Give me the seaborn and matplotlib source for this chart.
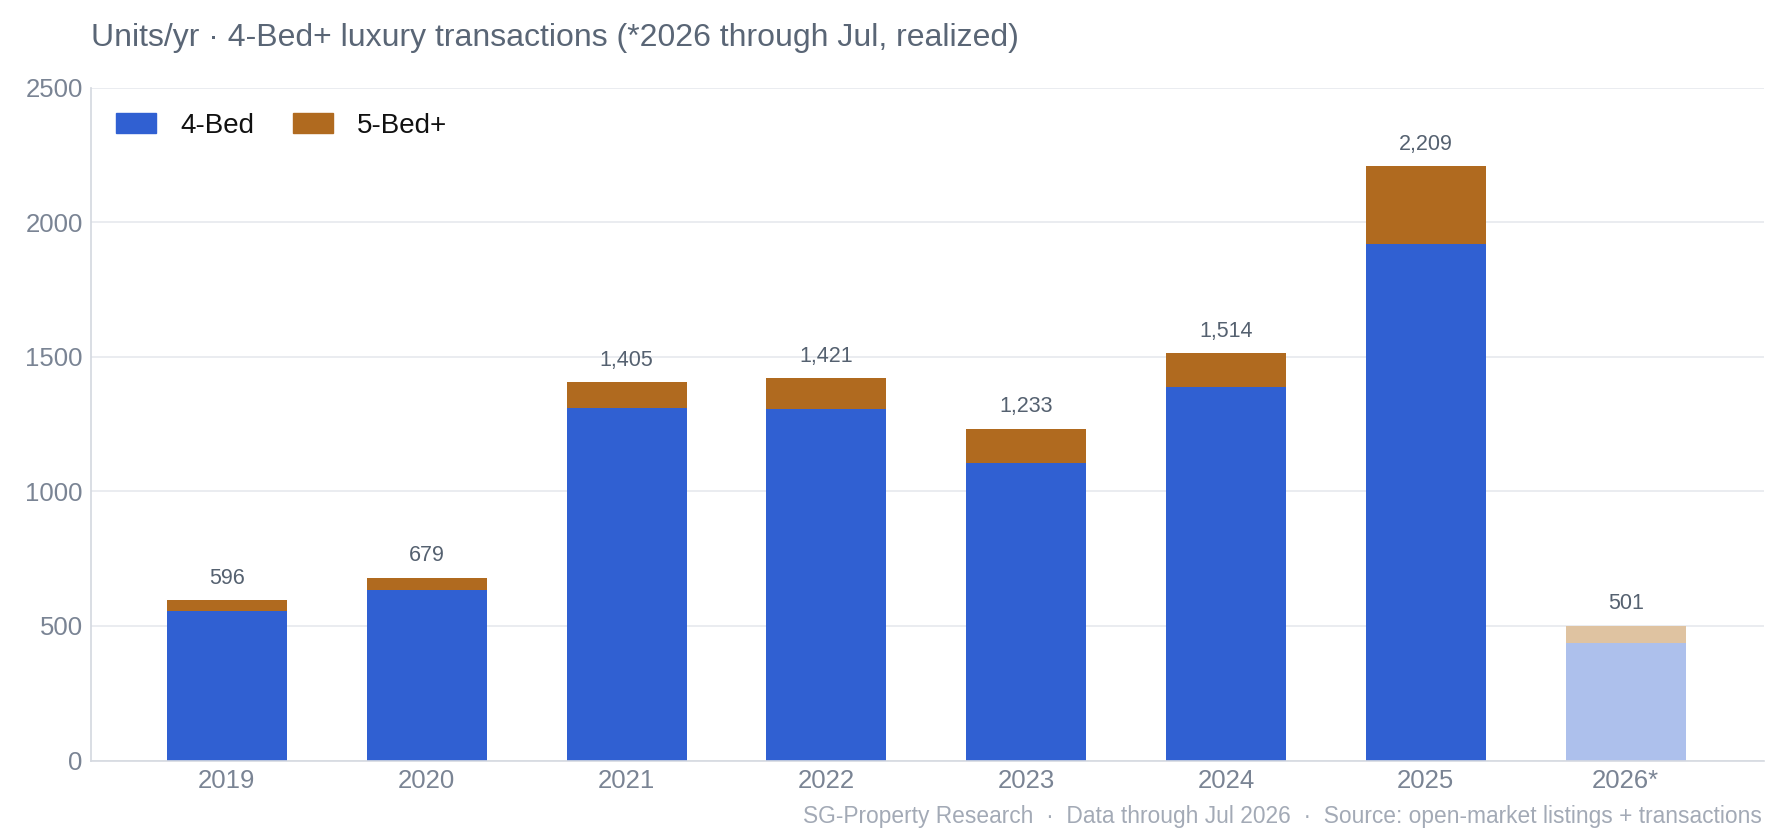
import matplotlib
matplotlib.use("Agg")
import matplotlib.pyplot as plt
import matplotlib.patches as mpatches
import seaborn as sns
import pandas as pd

years = ["2019", "2020", "2021", "2022", "2023", "2024", "2025", "2026*"]
bed4 = [556, 634, 1310, 1305, 1106, 1388, 1918, 437]
bed5 = [40, 45, 95, 116, 127, 126, 291, 64]
totals = [a + b for a, b in zip(bed4, bed5)]
partial = [False] * 7 + [True]

BLUE, BROWN = "#3060D2", "#B06A1F"
BLUE_L, BROWN_L = "#ADC0EC", "#DFC3A1"

sns.set_theme(style="white")
plt.rcParams["font.family"] = ["Liberation Sans", "DejaVu Sans"]

df = pd.DataFrame({"year": years, "bed4": bed4, "bed5": bed5, "total": totals})

fig = plt.figure(figsize=(17.85, 8.4), dpi=100)
ax = fig.add_axes([0.051, 0.0946, 0.937, 0.801])

pal5 = {y: (BROWN_L if p else BROWN) for y, p in zip(years, partial)}
pal4 = {y: (BLUE_L if p else BLUE) for y, p in zip(years, partial)}
sns.barplot(data=df, x="year", y="total", hue="year", palette=pal5, width=0.6,
            legend=False, ax=ax, saturation=1, linewidth=0)
sns.barplot(data=df, x="year", y="bed4", hue="year", palette=pal4, width=0.6,
            legend=False, ax=ax, saturation=1, linewidth=0)

for i, t in enumerate(totals):
    ax.text(i, t + 42, f"{t:,}", ha="center", va="bottom", fontsize=15.5,
            color="#556170")

ax.set_ylim(0, 2500)
ax.set_xlim(-0.68, 7.69)
ax.set_yticks([0, 500, 1000, 1500, 2000, 2500])
ax.set_xlabel("")
ax.set_ylabel("")
ax.grid(axis="y", color="#E6E9EE", linewidth=1.2)
ax.set_axisbelow(True)
for s in ["top", "right"]:
    ax.spines[s].set_visible(False)
ax.spines["left"].set_color("#D5D9E0")
ax.spines["bottom"].set_color("#D5D9E0")
ax.spines["bottom"].set_linewidth(1.2)
ax.tick_params(axis="both", labelsize=18.5, colors="#7A8494", length=0, pad=6)

handles = [mpatches.Patch(color=BLUE, label="4-Bed"),
           mpatches.Patch(color=BROWN, label="5-Bed+")]
ax.legend(handles=handles, loc="upper left", bbox_to_anchor=(0.0, 1.0), ncol=2,
          frameon=False, fontsize=20, handlelength=1.45, handleheight=0.74,
          columnspacing=1.4, handletextpad=0.85, labelcolor="#111111")

fig.text(0.051, 0.955, "Units/yr · 4-Bed+ luxury transactions (*2026 through Jul, realized)",
         ha="left", va="center", fontsize=23, color="#5A6676")
fig.text(0.987, 0.028,
         "SG-Property Research  ·  Data through Jul 2026  ·  Source: open-market listings + transactions",
         ha="right", va="center", fontsize=16.4, color="#A3AAB6")

fig.savefig("out.png", dpi=100)
